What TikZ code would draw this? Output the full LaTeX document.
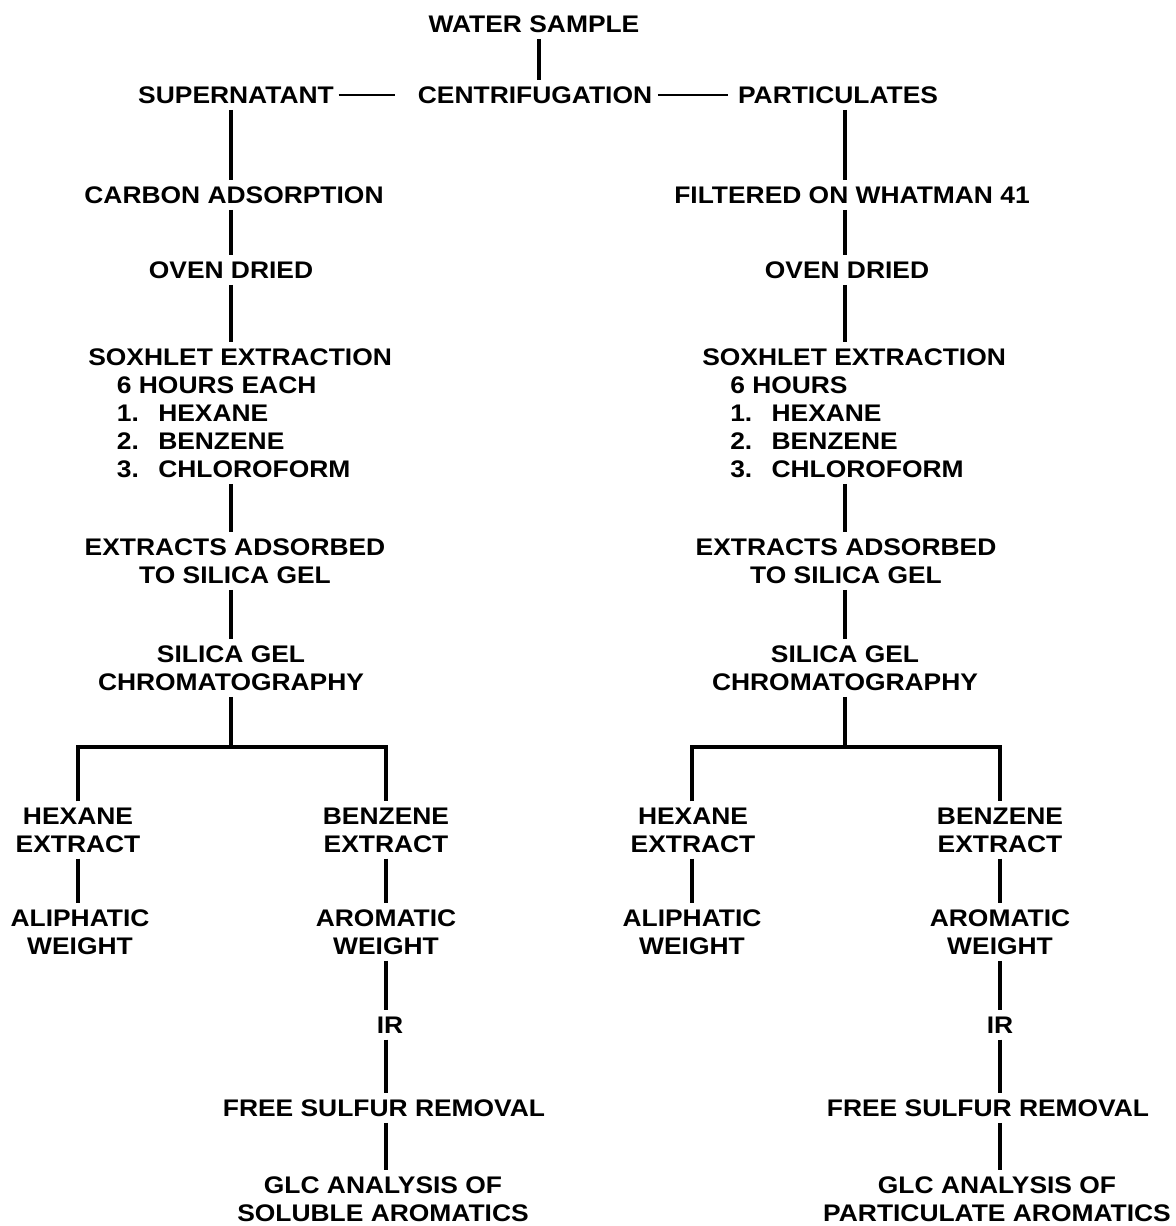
\documentclass[tikz,border=0pt]{standalone}
\usepackage{fontspec}
\setmainfont{Liberation Sans}[FakeStretch=1.1]
\tikzset{
  lbl/.style={font=\fontsize{18}{21}\selectfont\bfseries, inner xsep=2pt, inner ysep=4.5pt, align=center},
  lnk/.style={line width=2.6pt},
  dsh/.style={line width=2pt},
}
\newcommand{\itm}[1]{\makebox[31pt][l]{#1}}
\begin{document}
\begin{tikzpicture}[x=0.75pt,y=-0.75pt]
\useasboundingbox (0,0) rectangle (1176,1226);
% column coordinates
\coordinate (cT) at (539,0);
\coordinate (cL) at (231,0);
\coordinate (cR) at (845,0);
\coordinate (bL1) at (78,0);
\coordinate (bL2) at (386,0);
\coordinate (bR1) at (692,0);
\coordinate (bR2) at (1000,0);
\coordinate (bar) at (0,747);

% top
\node[lbl] (ws) at (534,24) {WATER SAMPLE};
\node[lbl] (cen) at (535,95) {CENTRIFUGATION};
\node[lbl] (sup) at (236,95) {SUPERNATANT};
\node[lbl] (par) at (838,95) {PARTICULATES};

% left column
\node[lbl] (carb) at (234,195) {CARBON ADSORPTION};
\node[lbl] (ovenL) at (231,270) {OVEN DRIED};
\node[lbl, align=left, anchor=west, inner xsep=0pt] (soxL) at (88,413) {SOXHLET EXTRACTION\\\hspace*{21.5pt}6 HOURS EACH\\\hspace*{21.5pt}\itm{1.}HEXANE\\\hspace*{21.5pt}\itm{2.}BENZENE\\\hspace*{21.5pt}\itm{3.}CHLOROFORM};
\node[lbl] (extL) at (235,561) {EXTRACTS ADSORBED\\TO SILICA GEL};
\node[lbl] (silL) at (231,668) {SILICA GEL\\CHROMATOGRAPHY};
\node[lbl] (hexL) at (78,830) {HEXANE\\EXTRACT};
\node[lbl] (benL) at (386,830) {BENZENE\\EXTRACT};
\node[lbl] (aliL) at (80,932) {ALIPHATIC\\WEIGHT};
\node[lbl] (aroL) at (386,932) {AROMATIC\\WEIGHT};
\node[lbl] (irL) at (390,1025) {IR};
\node[lbl] (fsrL) at (384,1108) {FREE SULFUR REMOVAL};
\node[lbl] (glcL) at (383,1199) {GLC ANALYSIS OF\\SOLUBLE AROMATICS};

% right column
\node[lbl] (filt) at (852,195) {FILTERED ON WHATMAN 41};
\node[lbl] (ovenR) at (847,270) {OVEN DRIED};
\node[lbl, align=left, anchor=west, inner xsep=0pt] (soxR) at (702,413) {SOXHLET EXTRACTION\\\hspace*{21pt}6 HOURS\\\hspace*{21pt}\itm{1.}HEXANE\\\hspace*{21pt}\itm{2.}BENZENE\\\hspace*{21pt}\itm{3.}CHLOROFORM};
\node[lbl] (extR) at (846,561) {EXTRACTS ADSORBED\\TO SILICA GEL};
\node[lbl] (silR) at (845,668) {SILICA GEL\\CHROMATOGRAPHY};
\node[lbl] (hexR) at (693,830) {HEXANE\\EXTRACT};
\node[lbl] (benR) at (1000,830) {BENZENE\\EXTRACT};
\node[lbl] (aliR) at (692,932) {ALIPHATIC\\WEIGHT};
\node[lbl] (aroR) at (1000,932) {AROMATIC\\WEIGHT};
\node[lbl] (irR) at (1000,1025) {IR};
\node[lbl] (fsrR) at (988,1108) {FREE SULFUR REMOVAL};
\node[lbl] (glcR) at (997,1199) {GLC ANALYSIS OF\\PARTICULATE AROMATICS};

% top connectors
\draw[lnk] (ws.south -| cT) -- (cen.north -| cT);
\draw[dsh, shorten <=1.5pt, shorten >=15pt] (sup.east) -- (cen.west);
\draw[dsh, shorten <=2.2pt, shorten >=5pt] (cen.east) -- (par.west);

% left chain
\draw[lnk] (sup.south -| cL) -- (carb.north -| cL);
\draw[lnk] (carb.south -| cL) -- (ovenL.north -| cL);
\draw[lnk] (ovenL.south -| cL) -- (soxL.north -| cL);
\draw[lnk] (soxL.south -| cL) -- (extL.north -| cL);
\draw[lnk] (extL.south -| cL) -- (silL.north -| cL);
\draw[lnk] (silL.south -| cL) -- (cL |- bar);
\draw[lnk] (hexL.north -| bL1) -- (bL1 |- bar) -- (bL2 |- bar) -- (benL.north -| bL2);
\draw[lnk] (hexL.south -| bL1) -- (aliL.north -| bL1);
\draw[lnk] (benL.south -| bL2) -- (aroL.north -| bL2);
\draw[lnk] (aroL.south -| bL2) -- (irL.north -| bL2);
\draw[lnk] (irL.south -| bL2) -- (fsrL.north -| bL2);
\draw[lnk] (fsrL.south -| bL2) -- (glcL.north -| bL2);

% right chain
\draw[lnk] (par.south -| cR) -- (filt.north -| cR);
\draw[lnk] (filt.south -| cR) -- (ovenR.north -| cR);
\draw[lnk] (ovenR.south -| cR) -- (soxR.north -| cR);
\draw[lnk] (soxR.south -| cR) -- (extR.north -| cR);
\draw[lnk] (extR.south -| cR) -- (silR.north -| cR);
\draw[lnk] (silR.south -| cR) -- (cR |- bar);
\draw[lnk] (hexR.north -| bR1) -- (bR1 |- bar) -- (bR2 |- bar) -- (benR.north -| bR2);
\draw[lnk] (hexR.south -| bR1) -- (aliR.north -| bR1);
\draw[lnk] (benR.south -| bR2) -- (aroR.north -| bR2);
\draw[lnk] (aroR.south -| bR2) -- (irR.north -| bR2);
\draw[lnk] (irR.south -| bR2) -- (fsrR.north -| bR2);
\draw[lnk] (fsrR.south -| bR2) -- (glcR.north -| bR2);
\end{tikzpicture}
\end{document}
